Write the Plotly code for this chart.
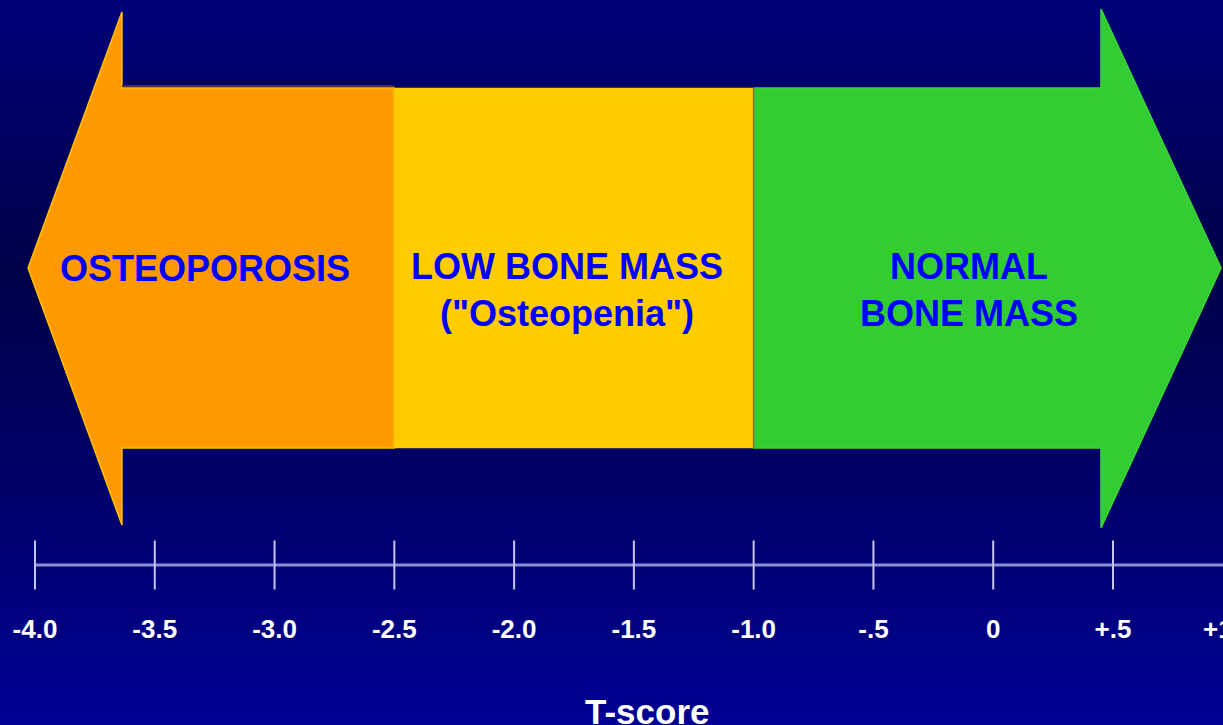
import plotly.graph_objects as go

# ---- data ----
categories = ["OSTEOPOROSIS", "LOW BONE MASS<br>(\"Osteopenia\")", "NORMAL<br>BONE MASS"]
boundaries = [-2.5, -1.0]            # T-score cut points between categories
tick_values = [-4.0, -3.5, -3.0, -2.5, -2.0, -1.5, -1.0, -0.5, 0.0, 0.5, 1.0]
tick_labels = ["-4.0", "-3.5", "-3.0", "-2.5", "-2.0", "-1.5", "-1.0", "-.5", "0", "+.5", "+1"]
axis_title = "T-score"

# ---- layout geometry (x in T-score units, y in screen-like units, 0 at top) ----
W, H = 1223, 725
px_per_unit = (1113 - 35) / 4.5
x0 = -4.0 - 35 / px_per_unit
x1 = x0 + W / px_per_unit

left_tip, left_base = -4.029, -3.637
right_base, right_tip = 0.450, 0.951
body_top, body_bot, mid_y = 88, 448, 268
lhead_top, lhead_bot = 12, 525
rhead_top, rhead_bot = 9, 528
axis_y, label_y, title_y = 565, 631, 711

colors = ["#ff9900", "#ffcc00", "#33cc33"]
text_color = "#0000ff"
font_fam = "Liberation Sans, Arial, sans-serif"

fig = go.Figure()

# background gradient
bg_y = [0, 270, 500, 725]
bg_cols = ["#00007a", "#000048", "#00006c", "#000094"]
fig.add_trace(go.Heatmap(
    x=[x0, x1], y=bg_y, z=[[0, 0], [1, 1], [2, 2], [3, 3]],
    colorscale=[[i / 3, c] for i, c in enumerate(bg_cols)],
    zsmooth="best", showscale=False, hoverinfo="skip"))

# orange (left arrow part)
b1, b2 = boundaries
fig.add_trace(go.Scatter(
    x=[left_tip, left_base, left_base, b1, b1, left_base, left_base, left_tip],
    y=[mid_y, lhead_top, body_top, body_top, body_bot, body_bot, lhead_bot, mid_y],
    fill="toself", fillcolor=colors[0], mode="lines",
    line=dict(color="#ffc000", width=1.5), hoverinfo="skip", showlegend=False))

# yellow middle
fig.add_trace(go.Scatter(
    x=[b1, b2, b2, b1, b1], y=[body_top, body_top, body_bot, body_bot, body_top],
    fill="toself", fillcolor=colors[1], mode="lines",
    line=dict(color=colors[1], width=0.5), hoverinfo="skip", showlegend=False))

# green (right arrow part)
fig.add_trace(go.Scatter(
    x=[b2, right_base, right_base, right_tip, right_base, right_base, b2, b2],
    y=[body_top, body_top, rhead_top, mid_y, rhead_bot, body_bot, body_bot, body_top],
    fill="toself", fillcolor=colors[2], mode="lines",
    line=dict(color="#36d836", width=1.5), hoverinfo="skip", showlegend=False))

# divider line between yellow and green
fig.add_trace(go.Scatter(
    x=[b2, b2], y=[body_top, body_bot], mode="lines",
    line=dict(color="#8a6a30", width=1.5), hoverinfo="skip", showlegend=False))
# dark edge on top of orange body
fig.add_trace(go.Scatter(
    x=[left_base, b1], y=[body_top - 2, body_top - 2], mode="lines",
    line=dict(color="#4a3048", width=2), hoverinfo="skip", showlegend=False))

# axis line and ticks
fig.add_trace(go.Scatter(
    x=[tick_values[0], tick_values[-1]], y=[axis_y, axis_y], mode="lines",
    line=dict(color="#8e8ed6", width=3), hoverinfo="skip", showlegend=False))
fig.add_trace(go.Scatter(
    x=tick_values, y=[axis_y] * len(tick_values), mode="markers",
    marker=dict(symbol="line-ns", size=35, line=dict(color="#c4c4ee", width=2)),
    hoverinfo="skip", showlegend=False))
fig.add_trace(go.Scatter(
    x=tick_values, y=[label_y] * len(tick_values), mode="text",
    text=tick_labels,
    textposition=["middle center"] * (len(tick_labels) - 1) + ["middle left"],
    textfont=dict(family=font_fam, size=26, color="white", weight="bold"),
    hoverinfo="skip", showlegend=False))

# category labels
cx = [(left_tip + b1) / 2 - 0.025, (b1 + b2) / 2 - 0.03, (b2 + right_tip) / 2 - 0.075]
cy = [mid_y, mid_y + 22, mid_y + 22]
for x, y, t in zip(cx, cy, categories):
    fig.add_annotation(x=x, y=y, text=t, showarrow=False, xanchor="center", yanchor="middle",
                       font=dict(family=font_fam, size=36, color=text_color, weight="bold"))

fig.add_annotation(x=(x0 + x1) / 2 + 0.15, y=title_y, text=axis_title, showarrow=False,
                   xanchor="center", yanchor="middle",
                   font=dict(family=font_fam, size=35, color="white", weight="bold"))

fig.update_layout(
    width=W, height=H, margin=dict(l=0, r=0, t=0, b=0),
    paper_bgcolor="#000070", plot_bgcolor="#000070", showlegend=False,
    xaxis=dict(range=[x0, x1], visible=False, fixedrange=True),
    yaxis=dict(range=[H, 0], visible=False, fixedrange=True),
)

fig.write_html("out.html", config={"displayModeBar": False},
               post_script="document.body.style.margin='0';document.body.style.overflow='hidden';")
